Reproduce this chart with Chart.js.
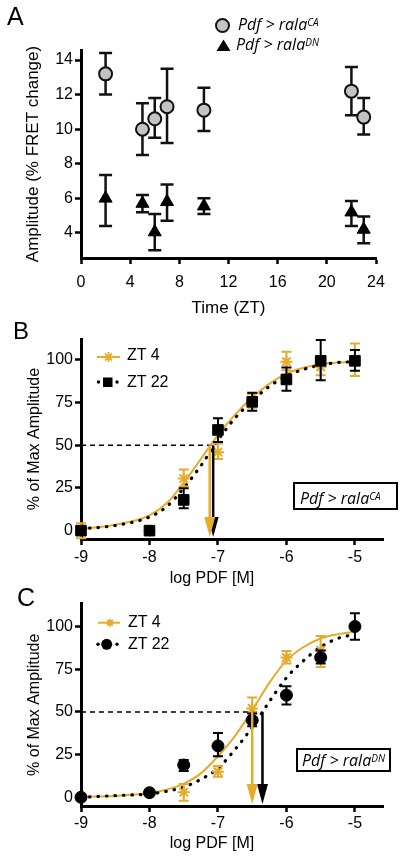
<!DOCTYPE html>
<html>
<head>
<meta charset="utf-8">
<script src="https://cdn.jsdelivr.net/npm/chart.js@4.4.1/dist/chart.umd.min.js"></script>
<style>
  body { margin: 0; background: #fff; }
  #page { position: relative; width: 400px; height: 861px; overflow: hidden; font-family: "Liberation Sans", Arial, sans-serif; color: #000; }
  .panel { position: absolute; left: 0; width: 400px; }
  .txt { position: absolute; white-space: nowrap; font-size: 16px; line-height: 16px; }
  .geno { font-family: "Open Sans", sans-serif; font-style: italic; }
  .geno sup { font-size: 10px; line-height: 0; position: relative; top: -4px; vertical-align: baseline; }
  .letter { position: absolute; font-size: 25px; line-height: 25px; }
  .box { position: absolute; border: 2px solid #000; box-sizing: border-box; }
  svg { position: absolute; left: 0; top: 0; }
</style>
</head>
<body>
<div id="page">
  <div class="panel" style="top:0;height:320px"><canvas id="chartA"></canvas></div>
  <div class="panel" style="top:320px;height:272px"><canvas id="chartB"></canvas></div>
  <div class="panel" style="top:592px;height:269px"><canvas id="chartC"></canvas></div>

  <svg width="400" height="861">
    <circle cx="222.5" cy="25.5" r="6.5" fill="#c3c3c3" stroke="#111" stroke-width="2"/>
    <polygon points="223.5,39.5 230.5,51 216.5,51" fill="#000"/>

    <line x1="97" y1="357" x2="120" y2="357" stroke="#E5AB2A" stroke-width="2"/>
    <path d="M103.5 357H113.5M108.5 352V362M105 353.5L112 360.5M112 353.5L105 360.5" stroke="#E5AB2A" stroke-width="1.8"/>
    <circle cx="98.5" cy="382" r="1.7" fill="#000"/>
    <circle cx="117" cy="382" r="1.7" fill="#000"/>
    <rect x="103" y="377.5" width="9.5" height="9.5" fill="#000"/>

    <line x1="98" y1="622.7" x2="120" y2="622.7" stroke="#E5AB2A" stroke-width="2"/>
    <path d="M106 622.7H114M110 618.7V626.7M107.2 619.9L112.8 625.5M112.8 619.9L107.2 625.5" stroke="#E5AB2A" stroke-width="1.8"/>
    <circle cx="98" cy="644.3" r="1.7" fill="#000"/>
    <circle cx="117" cy="644.3" r="1.7" fill="#000"/>
    <circle cx="106.7" cy="644.3" r="5.5" fill="#000"/>
  </svg>

  <div class="letter" style="left:7px;top:4px">A</div>
  <div class="letter" style="left:13px;top:319px;font-size:24px;line-height:24px">B</div>
  <div class="letter" style="left:17px;top:585px">C</div>

  <div class="txt geno" style="left:238px;top:15.8px">Pdf &gt; rala<sup>CA</sup></div>
  <div class="txt geno" style="left:236px;top:35.8px">Pdf &gt; rala<sup>DN</sup></div>

  <div class="txt" style="left:127px;top:347.2px">ZT 4</div>
  <div class="txt" style="left:127px;top:373.8px">ZT 22</div>
  <div class="txt" style="left:128px;top:613.8px">ZT 4</div>
  <div class="txt" style="left:128px;top:635.8px">ZT 22</div>

  <div class="box" style="left:293px;top:482px;width:105px;height:28px"></div>
  <div class="txt geno" style="left:300px;top:489.8px">Pdf &gt; rala<sup>CA</sup></div>
  <div class="box" style="left:296px;top:748px;width:95px;height:24px"></div>
  <div class="txt geno" style="left:302px;top:752.3px">Pdf &gt; rala<sup>DN</sup></div>
</div>

<script>
const gold = '#E5AB2A';
const fontFam = '"Liberation Sans", Arial, sans-serif';

// panel A: amplitude vs time
const ztHours = [2, 5, 6, 7, 10, 22, 23];
const caAmp  = [13.2, 10.0, 10.6, 11.3, 11.1, 12.2, 10.7];
const caLow  = [12.0, 8.5, 9.5, 9.2, 9.9, 10.8, 9.7];
const caHigh = [14.4, 11.5, 11.8, 13.5, 12.4, 13.6, 11.8];
const dnAmp  = [6.0, 5.7, 4.05, 5.8, 5.55, 5.2, 4.2];
const dnLow  = [4.4, 5.2, 3.0, 4.7, 5.1, 4.4, 3.4];
const dnHigh = [7.35, 6.2, 5.1, 6.8, 6.0, 5.85, 4.95];
const ztTicks = [0, 4, 8, 12, 16, 20, 24];
const ampTicks = [4, 6, 8, 10, 12, 14];

// panels B and C: dose response
const logDose = [-9, -8, -7.5, -7, -6.5, -6, -5.5, -5];
const doseTicks = [-9, -8, -7, -6, -5];
const pctTicks = [0, 25, 50, 75, 100];
const fitDose = [-9, -8.5, -8, -7.75, -7.5, -7.25, -7, -6.75, -6.5, -6.25, -6, -5.75, -5.5, -5.25, -5];

const caZt4     = [0, 0, 30.5, 46, 76, 99, 96, 100];
const caZt4Low  = [-4.4, null, 25.8, 42, 72, 94, 91, 90.6];
const caZt4High = [4.3, null, 35.9, 51, 80, 104.8, 101, 109.7];
const caZt22     = [0, 0, 18, 59, 75.5, 88.6, 99.5, 99.5];
const caZt22Low  = [null, null, 13.1, 52, 70.3, 82, 88.2, 93.7];
const caZt22High = [null, null, 24.8, 65.8, 80.8, 95.6, 111.7, 105.8];
const caFitZt4  = [1, 3.5, 9, 16, 28, 42, 56, 68, 78, 86, 92, 95.5, 97.5, 98.5, 99];
const caFitZt22 = [1, 3, 8, 14, 25, 38, 53, 66, 76, 84.5, 90.5, 94.5, 97, 98.5, 99];
const caEc50 = [-7.07, -7.12]; // ZT 22, ZT 4

const dnZt4     = [0, 2.5, 3, 15, 52, 81.8, 86, null];
const dnZt4Low  = [null, null, -2, 12, 45.5, 78.3, 76.3, null];
const dnZt4High = [null, null, 7.8, 18.3, 58.4, 85.7, 94.4, null];
const dnZt22     = [0, 2.7, 18.9, 30.1, 45.1, 59.8, 81.8, 100];
const dnZt22Low  = [null, null, 15.4, 24, 41.6, 54.3, 78.4, 92.3];
const dnZt22High = [null, null, 21.8, 37.6, 49, 65, 86, 107.8];
const dnFitZt4  = [0.3, 0.8, 2.5, 4.5, 8, 14, 24, 36, 51, 67, 80, 88, 93, 95.5, 97];
const dnFitZt22 = [0, 1, 2, 3.5, 6, 10.5, 17, 28, 41, 56, 70, 80, 88, 93, 95.5];
const dnEc50 = [-6.35, -6.5];

const halfLevel = 50;

const pts = (xs, ys) => xs.map((x, i) => ({ x: x, y: ys[i] })).filter(p => p.y !== null);

// error bars drawn just before each dataset's own points
const errorBars = {
  id: 'errorBars',
  beforeDatasetDraw(chart, args) {
    const ds = chart.data.datasets[args.index];
    if (!ds.errLow) return;
    const ctx = chart.ctx;
    const yScale = chart.scales.y;
    const xScale = chart.scales.x;
    ctx.save();
    ctx.strokeStyle = ds.errColor;
    ctx.lineWidth = ds.errWidth;
    ds.errX.forEach((xv, i) => {
      const lo = ds.errLow[i], hi = ds.errHigh[i];
      if (lo === null || hi === null) return;
      const x = xScale.getPixelForValue(xv);
      const y1 = yScale.getPixelForValue(lo);
      const y2 = yScale.getPixelForValue(hi);
      const w = ds.capWidth / 2;
      ctx.beginPath();
      ctx.moveTo(x, y1); ctx.lineTo(x, y2);
      ctx.moveTo(x - w, y1); ctx.lineTo(x + w, y1);
      ctx.moveTo(x - w, y2); ctx.lineTo(x + w, y2);
      ctx.stroke();
    });
    ctx.restore();
  }
};

const arrows = (values, colors) => ({
  id: 'ec50Arrows',
  afterDatasetsDraw(chart) {
    const { ctx, chartArea, scales } = chart;
    const yTop = scales.y.getPixelForValue(halfLevel);
    const tip = chartArea.bottom - 2;
    values.forEach((v, i) => {
      const x = scales.x.getPixelForValue(v);
      ctx.save();
      ctx.strokeStyle = colors[i];
      ctx.fillStyle = colors[i];
      ctx.lineWidth = 2.5;
      ctx.beginPath();
      ctx.moveTo(x, yTop);
      ctx.lineTo(x, tip - 18);
      ctx.stroke();
      ctx.beginPath();
      ctx.moveTo(x - 5.5, tip - 20);
      ctx.lineTo(x + 5.5, tip - 20);
      ctx.lineTo(x, tip);
      ctx.closePath();
      ctx.fill();
      ctx.restore();
    });
  }
});

const makeX = (min, max, ticks, title, tickPad, titlePad, boxH, titleSize) => ({
  type: 'linear', position: 'bottom', min: min, max: max,
  afterBuildTicks: s => { s.ticks = ticks.map(v => ({ value: v })); },
  afterFit: s => { s.height = boxH; },
  border: { color: '#000', width: 3 },
  grid: { drawOnChartArea: false, drawTicks: true, tickLength: 6, tickWidth: 2.5, tickColor: '#000' },
  ticks: { color: '#000', padding: tickPad, maxRotation: 0, autoSkip: false, font: { family: fontFam, size: 16 } },
  title: { display: true, text: title, color: '#000', font: { family: fontFam, size: titleSize }, padding: { top: 0, bottom: titlePad } }
});

const makeY = (min, max, ticks, title, titlePad, titleSize) => ({
  type: 'linear', position: 'left', min: min, max: max,
  afterBuildTicks: s => { s.ticks = ticks.map(v => ({ value: v })); },
  afterFit: s => { s.width = 81; },
  border: { color: '#000', width: 3 },
  grid: { drawOnChartArea: false, drawTicks: true, tickLength: 6, tickWidth: 2.5, tickColor: '#000' },
  ticks: { color: '#000', padding: 2, font: { family: fontFam, size: 16 } },
  title: { display: true, text: title, color: '#000', font: { family: fontFam, size: titleSize }, padding: { top: titlePad, bottom: 0 } }
});

const baseOptions = (padding, xAxis, yAxis) => ({
  responsive: true,
  maintainAspectRatio: false,
  animation: false,
  events: [],
  layout: { padding: padding },
  plugins: { legend: { display: false }, tooltip: { enabled: false } },
  scales: { x: xAxis, y: yAxis }
});

const pointSet = (xs, ys, lo, hi, style, order) => Object.assign({
  data: pts(xs, ys), errX: xs, errLow: lo, errHigh: hi,
  showLine: false, clip: false, order: order
}, style);

const fitSet = (ys, color, dotted, order) => ({
  data: pts(fitDose, ys), showLine: true, pointRadius: 0, clip: false, order: order,
  borderColor: color, borderWidth: dotted ? 3.2 : 2,
  borderDash: dotted ? [0.5, 8] : [], borderCapStyle: dotted ? 'round' : 'butt',
  cubicInterpolationMode: 'monotone', tension: 0.3
});

const halfLine = (ec) => ({
  data: [{ x: doseTicks[0], y: halfLevel }, { x: Math.max(...ec), y: halfLevel }],
  showLine: true, pointRadius: 0, clip: false, order: 6,
  borderColor: '#000', borderWidth: 1.5, borderDash: [5, 4]
});

Chart.defaults.font.family = fontFam;

new Chart(document.getElementById('chartA'), {
  type: 'scatter',
  data: {
    datasets: [
      pointSet(ztHours, caAmp, caLow, caHigh, {
        pointStyle: 'circle', pointRadius: 6.5, pointBackgroundColor: '#c3c3c3', pointBorderColor: '#111', pointBorderWidth: 2,
        errColor: '#111', errWidth: 2.5, capWidth: 13
      }, 1),
      pointSet(ztHours, dnAmp, dnLow, dnHigh, {
        pointStyle: 'triangle', pointRadius: 7.5, pointBackgroundColor: '#000', pointBorderColor: '#000', pointBorderWidth: 1,
        errColor: '#111', errWidth: 2.5, capWidth: 13
      }, 2)
    ]
  },
  options: baseOptions({ top: 50, right: 24, bottom: 0, left: 0 },
    makeX(0, 24, ztTicks, 'Time (ZT)', 8.5, 1.8, 62, 17),
    makeY(2.55, 14.58, ampTicks, 'Amplitude (% FRET change)', 22.8, 17)),
  plugins: [errorBars]
});

const goldStar = { pointStyle: 'star', pointRadius: 6, pointBackgroundColor: gold, pointBorderColor: gold, pointBorderWidth: 2,
  errColor: gold, errWidth: 2, capWidth: 10 };

new Chart(document.getElementById('chartB'), {
  type: 'scatter',
  data: {
    datasets: [
      pointSet(logDose, caZt22, caZt22Low, caZt22High, {
        pointStyle: 'rect', pointRadius: 7.5, pointBackgroundColor: '#000', pointBorderColor: '#000', pointBorderWidth: 1,
        errColor: '#000', errWidth: 2, capWidth: 10
      }, 1),
      pointSet(logDose, caZt4, caZt4Low, caZt4High, goldStar, 2),
      fitSet(caFitZt22, '#000', true, 3),
      fitSet(caFitZt4, gold, false, 4),
      halfLine(caEc50)
    ]
  },
  options: baseOptions({ top: 19, right: 17, bottom: 0, left: 0 },
    makeX(-9, -4.59, doseTicks, 'log PDF [M]         ', 2.5, 3.4, 53, 16),
    makeY(-4.9, 112.3, pctTicks, '% of Max Amplitude', 25, 16)),
  plugins: [errorBars, arrows(caEc50, ['#000', gold])]
});

new Chart(document.getElementById('chartC'), {
  type: 'scatter',
  data: {
    datasets: [
      pointSet(logDose, dnZt22, dnZt22Low, dnZt22High, {
        pointStyle: 'circle', pointRadius: 6, pointBackgroundColor: '#000', pointBorderColor: '#000', pointBorderWidth: 1,
        errColor: '#000', errWidth: 2, capWidth: 10
      }, 1),
      pointSet(logDose, dnZt4, dnZt4Low, dnZt4High, goldStar, 2),
      fitSet(dnFitZt22, '#000', true, 3),
      fitSet(dnFitZt4, gold, false, 4),
      halfLine(dnEc50)
    ]
  },
  options: baseOptions({ top: 11, right: 17, bottom: 0, left: 0 },
    makeX(-9, -4.59, doseTicks, 'log PDF [M]         ', 1.5, 7.4, 55, 16),
    makeY(-5.1, 113.4, pctTicks, '% of Max Amplitude', 25, 16)),
  plugins: [errorBars, arrows(dnEc50, ['#000', gold])]
});
</script>
</body>
</html>
